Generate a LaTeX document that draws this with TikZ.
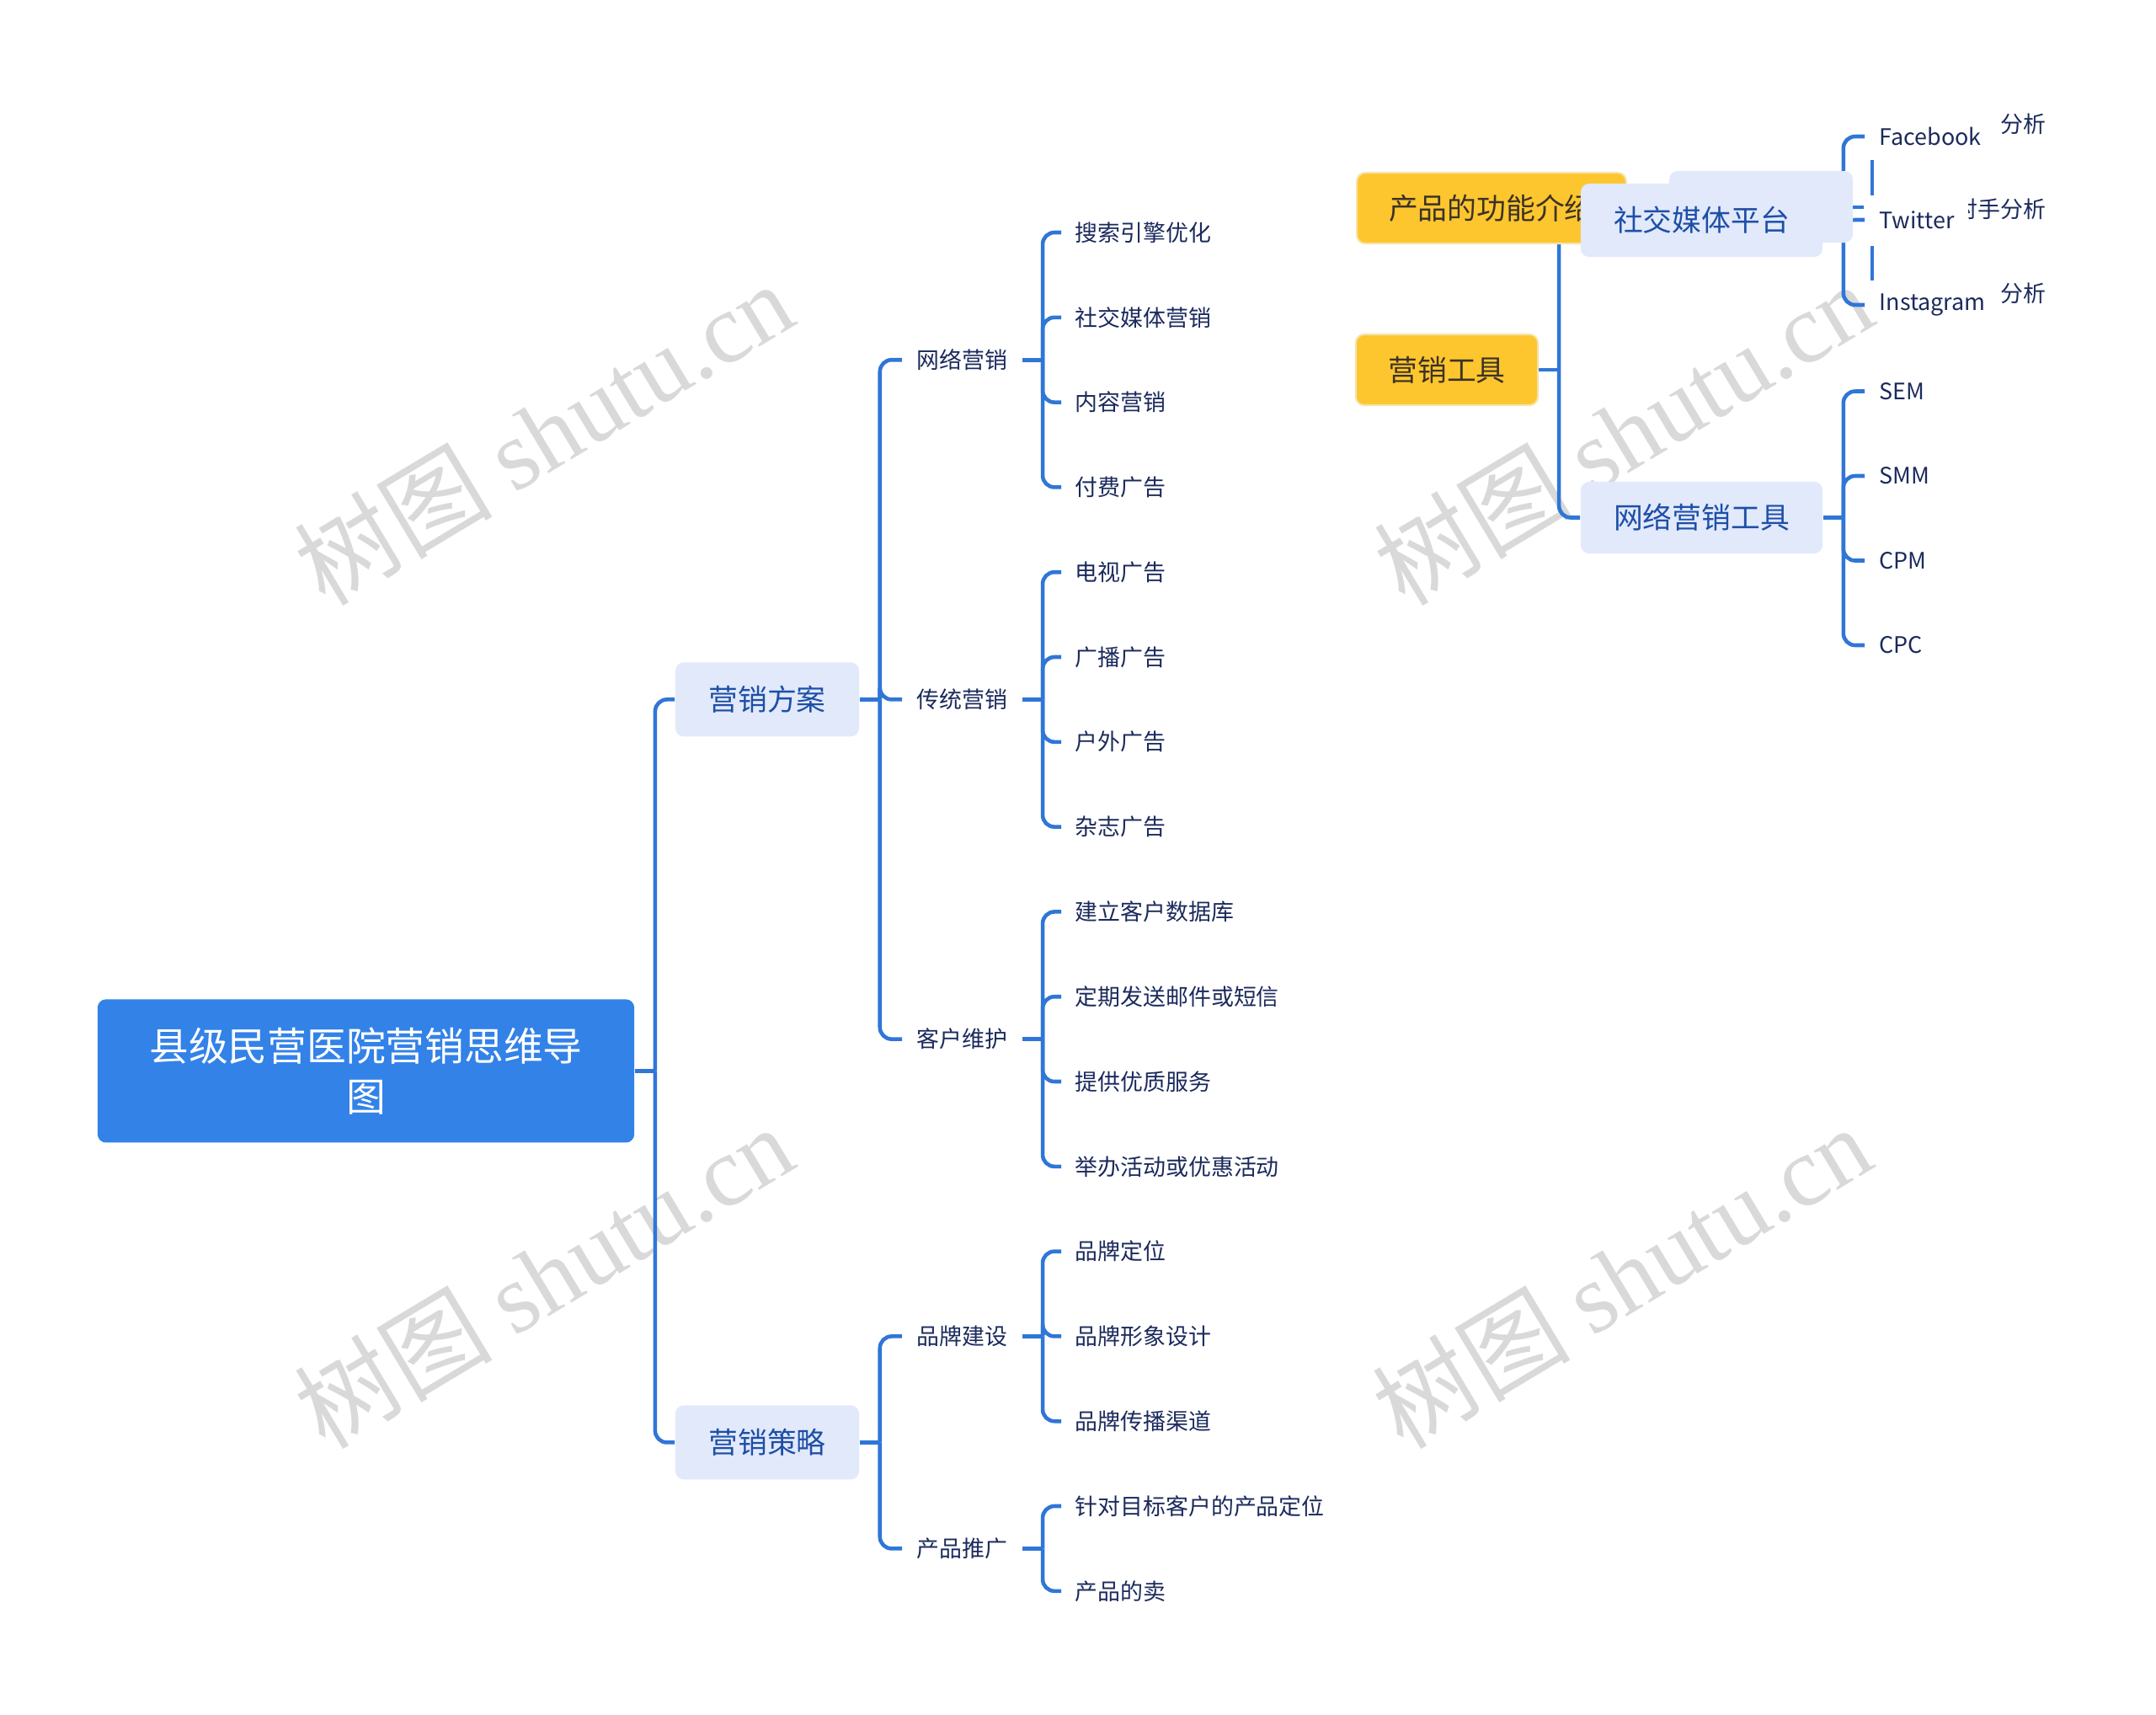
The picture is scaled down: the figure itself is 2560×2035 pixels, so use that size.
\documentclass[tikz,border=0pt]{standalone}
\usepackage{fontspec}
\setmainfont{Noto Sans CJK SC}
\newfontfamily\wmlat{Liberation Serif}
\usetikzlibrary{calc}
\pgfdeclarelayer{bg}
\pgfsetlayers{bg,main}
\definecolor{lineblue}{HTML}{2F76D6}
\definecolor{rootblue}{HTML}{3282E8}
\definecolor{lonefill}{HTML}{E1E9FB}
\definecolor{lonetext}{HTML}{1E4FA6}
\definecolor{navy}{HTML}{1B2A5C}
\definecolor{yfill}{HTML}{FDC62E}
\definecolor{yedge}{HTML}{F6E3A8}
\definecolor{ytext}{HTML}{3B3226}
\definecolor{wmgray}{HTML}{D9D9D9}
\begin{document}
\begin{tikzpicture}[x=0.01cm,y=-0.01cm,
  conn/.style={draw=lineblue,line width=1.3pt},
  rootbox/.style={fill=rootblue,rounded corners=0.1cm,text=white,align=center,
    minimum width=6.37cm,minimum height=1.7cm,inner sep=0pt,
    font=\fontsize{13.3pt}{17pt}\selectfont},
  onebox/.style={fill=lonefill,rounded corners=0.1cm,text=lonetext,
    minimum width=2.18cm,minimum height=0.88cm,inner sep=0pt,
    font=\fontsize{9.9pt}{12pt}\selectfont},
  ybox/.style={fill=yfill,draw=yedge,line width=0.6pt,rounded corners=0.1cm,text=ytext,
    minimum height=0.84cm,inner ysep=0pt,
    font=\fontsize{9.9pt}{12pt}\selectfont},
  twotext/.style={anchor=west,inner xsep=0.17cm,inner ysep=0pt,text=navy,
    font=\fontsize{7.65pt}{9pt}\selectfont},
  leaf/.style={anchor=west,inner xsep=0.16cm,inner ysep=0pt,text=navy,
    font=\fontsize{7.65pt}{9pt}\selectfont},
  note/.style={anchor=west,inner sep=0pt,text=navy,
    font=\fontsize{7.65pt}{9pt}\selectfont},
  wm/.style={text=wmgray,rotate=31,inner sep=0pt,
    font=\fontsize{33.5pt}{38pt}\selectfont}
]
\useasboundingbox (0,0) rectangle (2560,2035);

% watermarks
\begin{pgfonlayer}{bg}
\foreach \wx/\wy [count=\k] in {645/514,1927/514,645/1515,1925/1515}{
  \node[wm] (wm\k) at (\wx,\wy) {树图 {\wmlat shutu.cn}};
}
\end{pgfonlayer}

% root and level 1
\node[rootbox] (root) at (434.5,1271.4) {县级民营医院营销思维导\\图};
\node[onebox] (fa) at (911,830.4) {营销方案};
\node[onebox] (fb) at (911,1712.4) {营销策略};

% level 2
\node[twotext] (n1) at (1071,427.2) {网络营销};
\node[twotext] (n2) at (1071,830.4) {传统营销};
\node[twotext] (n3) at (1071,1233.6) {客户维护};
\node[twotext] (n4) at (1071,1586.4) {品牌建设};
\node[twotext] (n5) at (1071,1838.4) {产品推广};

% leaves
\foreach \t [count=\i from 0] in {搜索引擎优化,社交媒体营销,内容营销,付费广告,电视广告,广播广告,户外广告,杂志广告,建立客户数据库,定期发送邮件或短信,提供优质服务,举办活动或优惠活动,品牌定位,品牌形象设计,品牌传播渠道,针对目标客户的产品定位,产品的卖}{
  \node[leaf] (l\i) at (1260,{276+100.8*\i}) {\t};
}

% top right group
\node[ybox,anchor=north west,inner xsep=0.38cm] (yprod) at (1610,204) {产品的功能介绍};
\node[ybox,minimum width=2.16cm,inner xsep=0pt] (ytool) at (1718,439) {营销工具};
\fill[lonefill,rounded corners=0.1cm] (1982,203) rectangle (2200,288);
\node[onebox,minimum width=2.87cm,minimum height=0.87cm] (soc) at (2020.5,261.5) {社交媒体平台};
\node[onebox,minimum width=2.87cm,minimum height=0.85cm] (net) at (2020.5,614.5) {网络营销工具};

\node[leaf,inner xsep=0.17cm] (fbk) at (2214,162) {Facebook};
\node[leaf,inner xsep=0.17cm] (twt) at (2214,261) {Twitter};
\node[leaf,inner xsep=0.17cm] (ins) at (2214,362) {Instagram};
\node[leaf,inner xsep=0.17cm] (sem) at (2214,464.5) {SEM};
\node[leaf,inner xsep=0.17cm] (smm) at (2214,565) {SMM};
\node[leaf,inner xsep=0.17cm] (cpm) at (2214,665.5) {CPM};
\node[leaf,inner xsep=0.17cm] (cpc) at (2214,766) {CPC};

\node[note] (an1) at (2375,147) {分析};
\begin{scope}
  \clip (2337,200) rectangle (2500,300);
  \node[note] (an2) at (2321,248) {对手分析};
\end{scope}
\node[note] (an3) at (2375,348) {分析};

% stray marks near Twitter
\draw[conn] (2200,246) -- (2213,246);
\draw[conn] (2223,190) -- (2223,232);
\draw[conn] (2223,292) -- (2223,333);

% connectors
\begin{pgfonlayer}{bg}
\foreach \p/\c in {root/fa,root/fb,fa/n1,fa/n2,fa/n3,fb/n4,fb/n5,
  n1/l0,n1/l1,n1/l2,n1/l3,n2/l4,n2/l5,n2/l6,n2/l7,n3/l8,n3/l9,n3/l10,n3/l11,
  n4/l12,n4/l13,n4/l14,n5/l15,n5/l16,
  ytool/soc,ytool/net,soc/fbk,soc/twt,soc/ins,net/sem,net/smm,net/cpm,net/cpc}{
  \draw[conn] (\p.east) -- ++(24,0);
  \draw[conn,rounded corners=0.14cm] ($(\p.east)+(24,0)$) |- (\c.west);
}
\end{pgfonlayer}
\end{tikzpicture}
\end{document}
